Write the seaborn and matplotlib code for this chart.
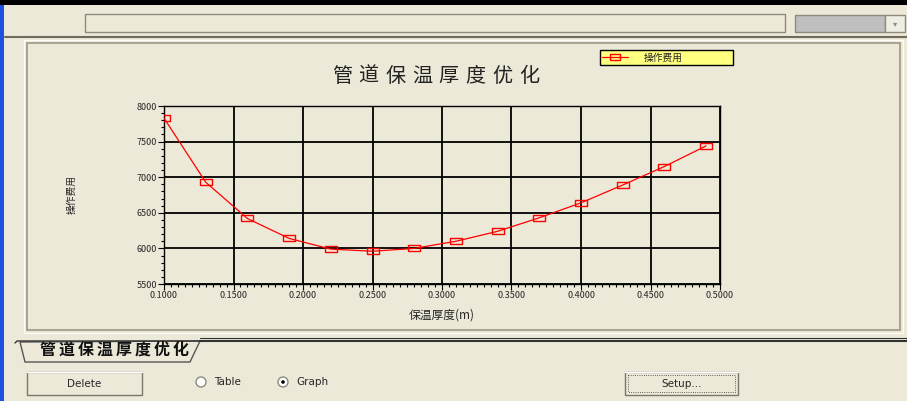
import matplotlib
matplotlib.use("Agg")
import matplotlib.pyplot as plt
import matplotlib.ticker as mticker
from matplotlib.patches import Rectangle, Polygon, Circle
import seaborn as sns
import pandas as pd

# ── Data ──────────────────────────────────────────────────────────────────────
thickness = [0.10, 0.13, 0.16, 0.19, 0.22, 0.25, 0.28, 0.31, 0.34, 0.37, 0.40, 0.43, 0.46, 0.49]
cost = [7830, 6930, 6420, 6140, 5990, 5960, 6000, 6100, 6240, 6430, 6640, 6890, 7150, 7440]
x_ticks = [0.10, 0.15, 0.20, 0.25, 0.30, 0.35, 0.40, 0.45, 0.50]
y_ticks = [5500, 6000, 6500, 7000, 7500, 8000]

TITLE = "管道保温厚度优化"
X_LABEL = "保温厚度(m)"
Y_LABEL = "操作费用"
SERIES = "操作费用"

BG = "#ECE9D8"
W, H = 907, 401

sns.set_theme(style="white")
plt.rcParams["font.family"] = ["Noto Sans CJK SC", "DejaVu Sans"]

fig = plt.figure(figsize=(W / 100, H / 100), dpi=100, facecolor=BG)


def spaced_text(ax, x0, y, text, step, **kw):
    """Write text one glyph at a time, step px apart (wide letter spacing)."""
    for i, ch in enumerate(text):
        ax.text(x0 + i * step, y, ch, ha="center", va="center", **kw)


# ── Window chrome (pixel coords) ─────────────────────────────────────────────
ui = fig.add_axes([0, 0, 1, 1])
ui.set_xlim(0, W)
ui.set_ylim(H, 0)
ui.axis("off")
ui.set_facecolor(BG)

ui.add_patch(Rectangle((0, 0), W, 5, color="black", lw=0))
ui.add_patch(Rectangle((0, 5), 4, H, color="#1F4FE0", lw=0))
# top text box and combo box
ui.add_patch(Rectangle((85, 14), 700, 18, fc=BG, ec="#8E8A7C", lw=1))
ui.add_patch(Rectangle((795, 15), 90, 17, fc="#BFBFBF", ec="#8E8A7C", lw=1))
ui.add_patch(Rectangle((885, 15), 20, 17, fc="#F0EEE4", ec="#8E8A7C", lw=1))
ui.text(895, 24, "▾", ha="center", va="center", fontsize=6, color="#888888", family="DejaVu Sans")
ui.plot([5, W], [37, 37], color="#6E6A5C", lw=1.5)
# inner panel
ui.add_patch(Rectangle((27, 43), 873, 287, fc=BG, ec="#9C9886", lw=1.2))
ui.add_patch(Rectangle((24, 40), 879, 293, fc="none", ec="#FFFFFF", lw=0.8))
# tab strip
ui.plot([15, 17, 200], [343, 341, 341], color="#333333", lw=1)
ui.plot([200, W], [341, 341], color="#333333", lw=1.5)
ui.plot([200, W], [338, 338], color="#333333", lw=0.8)
ui.add_patch(Polygon([(20, 342), (25, 362), (190, 362), (200, 341)], closed=True,
                     fc=BG, ec="#555555", lw=1))
spaced_text(ui, 48, 350, TITLE, 19, fontsize=11.5, fontweight="bold", color="#111111")
# buttons
for x0, w, label in [(27, 115, "Delete"), (625, 113, "Setup...")]:
    ui.add_patch(Rectangle((x0, 372), w, 23, fc=BG, ec="#7A7668", lw=1))
    ui.plot([x0, x0 + w], [372, 372], color="white", lw=1)
    ui.text(x0 + w / 2, 384, label, fontsize=7.5, ha="center", va="center", family="DejaVu Sans")
ui.add_patch(Rectangle((628, 375), 107, 17, fc="none", ec="#333333", lw=0.6, ls=":"))
ui.add_patch(Circle((201, 382), 5, fc="white", ec="#8E8A7C", lw=1))
ui.text(214, 382, "Table", fontsize=7.5, va="center", family="DejaVu Sans")
ui.add_patch(Circle((283, 382), 5, fc="white", ec="#8E8A7C", lw=1))
ui.add_patch(Circle((283, 382), 1.8, fc="black", lw=0))
ui.text(296, 382, "Graph", fontsize=7.5, va="center", family="DejaVu Sans")

# chart title, wide letter spacing as in the original
spaced_text(ui, 342, 76, TITLE, 26.7, fontsize=14.5, color="#222222")

# ── Chart ────────────────────────────────────────────────────────────────────
df = pd.DataFrame({"thickness": thickness, "cost": cost})
ax = fig.add_axes([164 / W, 1 - 284 / H, 556 / W, 178 / H])
ax.set_facecolor(BG)

rect_marker = [(-1.7, -1), (1.7, -1), (1.7, 1), (-1.7, 1), (-1.7, -1)]
sns.lineplot(data=df, x="thickness", y="cost", ax=ax, color="red", lw=0.9,
             marker=rect_marker, markersize=8.5, markerfacecolor="none",
             markeredgecolor="red", markeredgewidth=1, label=SERIES, zorder=3)

ax.set_xlim(0.10, 0.50)
ax.set_ylim(5500, 8000)
ax.set_xticks(x_ticks)
ax.set_yticks(y_ticks)
ax.xaxis.set_major_formatter(mticker.FormatStrFormatter("%.4f"))
ax.xaxis.set_minor_locator(mticker.AutoMinorLocator(10))
ax.yaxis.set_minor_locator(mticker.AutoMinorLocator(5))
ax.tick_params(axis="both", which="major", labelsize=6.5, length=4, width=0.8,
               direction="out", color="black", pad=1, left=True, bottom=True)
ax.tick_params(axis="both", which="minor", length=2, width=0.8, color="black",
               left=True, bottom=True)
ax.grid(True, which="major", color="black", lw=1.3)
for s in ax.spines.values():
    s.set_color("black")
    s.set_linewidth(1)

ax.set_xlabel(X_LABEL, fontsize=8.5, labelpad=6)
ax.set_ylabel(Y_LABEL, fontsize=7, labelpad=43)

leg = ax.legend(loc="upper left", bbox_to_anchor=(600 / W, 1 - 67 / H, 133 / W, 17 / H),
                bbox_transform=fig.transFigure, mode="expand", fontsize=7,
                frameon=True, fancybox=False, facecolor="#FFFF80", edgecolor="black",
                framealpha=1, handlelength=2.6, borderpad=0.25,
                borderaxespad=0, handletextpad=1.6)
leg.get_frame().set_linewidth(1)
for h in leg.legend_handles:
    h.set_markersize(7)

fig.savefig("out.png", dpi=100, facecolor=BG)
